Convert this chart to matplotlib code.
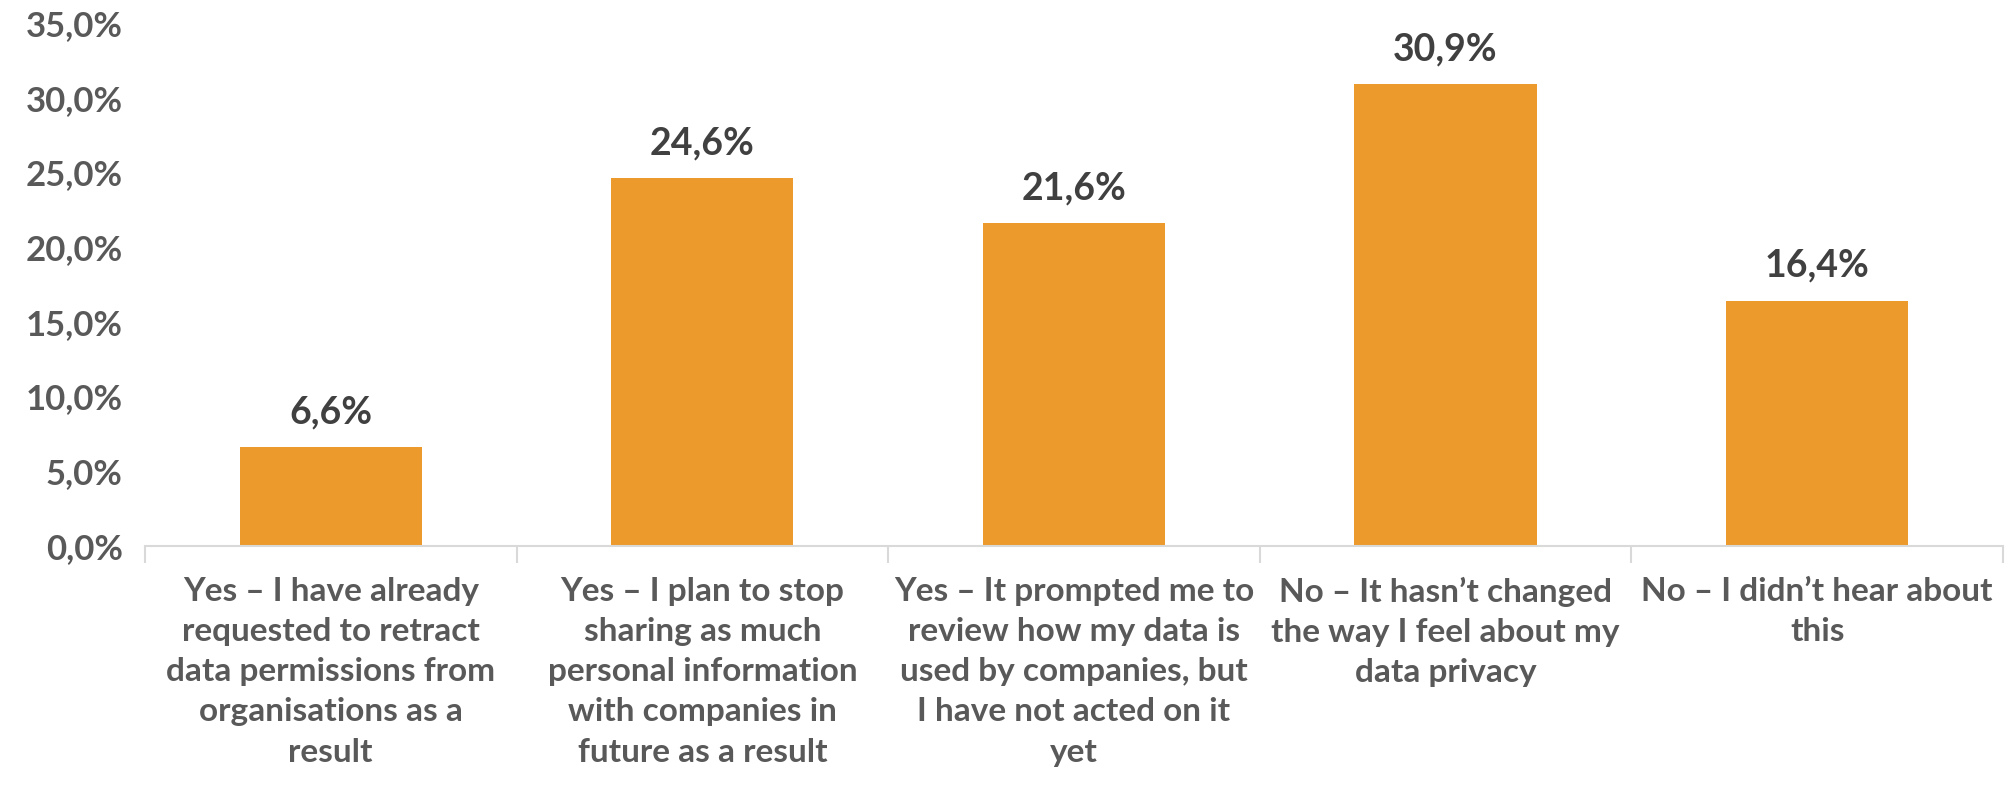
import matplotlib
matplotlib.use('Agg')
import matplotlib.pyplot as plt
from matplotlib.ticker import FixedLocator, FuncFormatter

plt.rcParams['font.family'] = ['Lato', 'DejaVu Sans']
plt.rcParams['font.weight'] = 'bold'

categories = [
    'Yes – I have already\nrequested to retract\ndata permissions from\norganisations as a\nresult',
    'Yes – I plan to stop\nsharing as much\npersonal information\nwith companies in\nfuture as a result',
    'Yes – It prompted me to\nreview how my data is\nused by companies, but\nI have not acted on it\nyet',
    'No – It hasn’t changed\nthe way I feel about my\ndata privacy',
    'No – I didn’t hear about\nthis',
]
values = [6.6, 24.6, 21.6, 30.9, 16.4]

bar_color = '#EB9A2B'
axis_text = '#595959'
label_text = '#404040'


def pct(v, pos=None):
    return ('%.1f' % v).replace('.', ',') + '%'


fig = plt.figure(figsize=(20.13, 7.89), dpi=100)
ax = fig.add_axes([0.072, 0.308, 0.923, 0.663])

x = range(len(values))
bars = ax.bar(x, values, width=0.49, color=bar_color, zorder=2)

for b, v in zip(bars, values):
    ax.annotate(pct(v), (b.get_x() + b.get_width() / 2, v),
                xytext=(0, 13), textcoords='offset points',
                ha='center', va='bottom', fontsize=27, fontweight='bold',
                color=label_text)

ax.set_ylim(0, 35)
ax.set_xlim(-0.5, len(values) - 0.5)
ax.set_yticks([0, 5, 10, 15, 20, 25, 30, 35])
ax.yaxis.set_major_formatter(FuncFormatter(pct))
ax.tick_params(axis='y', length=0, pad=16, labelsize=25, labelcolor=axis_text)

# category labels at centres, divider ticks between categories
ax.set_xticks(list(x))
ax.set_xticklabels(categories, fontsize=24, color=axis_text,
                   linespacing=1.47, fontweight='bold')
ax.tick_params(axis='x', which='major', length=0, pad=22)
ax.xaxis.set_minor_locator(FixedLocator([i - 0.5 for i in range(len(values) + 1)]))
ax.tick_params(axis='x', which='minor', length=12, width=1.5, color='#D9D9D9')

for s in ['top', 'right', 'left']:
    ax.spines[s].set_visible(False)
ax.spines['bottom'].set_color('#D9D9D9')
ax.spines['bottom'].set_linewidth(1.5)

fig.savefig('out.png', dpi=100)
